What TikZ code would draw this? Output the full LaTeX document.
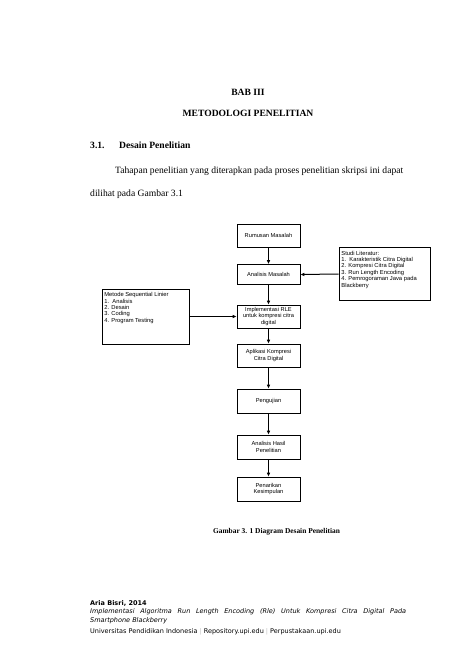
\documentclass[tikz,border=0pt]{standalone}
\usepackage{fontspec}
\setmainfont{Liberation Serif}
\newfontfamily\diagfont{Liberation Sans}
\newfontfamily\footfont{DejaVu Sans}
\usetikzlibrary{arrows.meta, positioning, calc}

\begin{document}
\begin{tikzpicture}[x=1pt, y=-1pt, every node/.style={inner sep=0pt},
    stepbox/.style={draw, line width=0.6pt, minimum width=63pt, minimum height=23pt,
      align=center, font=\diagfont\fontsize{5.7}{6.5}\selectfont},
    sidebox/.style={draw, line width=0.6pt},
    sidetext/.style={align=left, inner xsep=2.5pt, inner ysep=3.5pt, font=\diagfont\fontsize{5.8}{6.4}\selectfont},
    flow/.style={-{Latex[length=4pt, width=3.6pt]}, line width=1pt},
    bodytext/.style={anchor=base west, font=\fontsize{9.6}{11}\selectfont},
    foottext/.style={anchor=base west, font=\footfont\fontsize{6.5}{9.6}\selectfont}]
      \useasboundingbox (0,0) rectangle (474,669);
      % Chapter heading
      \node[font=\fontsize{9.6}{11}\bfseries] (bab) at (248,92) {BAB III};
      \node[font=\fontsize{9.6}{11}\bfseries] (judul) at (248,113) {METODOLOGI PENELITIAN};
      \node[anchor=base west, font=\fontsize{9.6}{11}\bfseries] (nomor) at (90,148) {3.1.};
      \node[anchor=base west, font=\fontsize{9.6}{11}\bfseries] (subjudul) at (119,148) {Desain Penelitian};
      \node[bodytext] (paragraf) at (115,173) {Tahapan penelitian yang diterapkan pada proses penelitian skripsi ini dapat};
      \node[bodytext] (paragrafb) at (90,196) {dilihat pada Gambar 3.1};
      % Main flow
      \node[stepbox] (rumusan) at (268.5,235.5) {Rumusan Masalah};
      \node[stepbox, minimum height=20pt] (analisis) at (268.5,274.5) {Analisis Masalah};
      \node[stepbox] (implementasi) at (268.5,316.5) {Implementasi RLE\\untuk kompresi citra\\digital};
      \node[stepbox] (aplikasi) at (268.5,355.5) {Aplikasi Kompresi\\Citra Digital};
      \node[stepbox, minimum height=24pt] (pengujian) at (268.5,401) {Pengujian};
      \node[stepbox, minimum height=24pt] (hasil) at (268.5,447) {Analisis Hasil\\Penelitian};
      \node[stepbox, minimum height=24pt] (penarikan) at (268.5,489) {Penarikan\\Kesimpulan};
      \draw[flow] (rumusan) -- (analisis);
      \draw[flow] (analisis) -- (implementasi);
      \draw[flow] (implementasi) -- (aplikasi);
      \draw[flow] (aplikasi) -- (pengujian);
      \draw[flow] (pengujian) -- (hasil);
      \draw[flow] (hasil) -- (penarikan);
      % Side boxes
      \node[sidebox, minimum width=87pt, minimum height=55pt] (metode) at (145.5,316.5) {};
      \node[sidetext, anchor=north west] (metodeteks) at (metode.north west)
        {Metode Sequential Linier\\1.\ \ Analisis\\2. Desain\\3. Coding\\4. Program Testing};
      \node[sidebox, minimum width=91pt, minimum height=53pt] (studi) at (384.5,274) {};
      \node[sidetext, anchor=north west] (studiteks) at (studi.north west)
        {Studi Literatur:\\1.\ \ Karakteristik Citra Digital\\2. Kompresi Citra Digital\\3. Run Length Encoding\\4. Pemrogoraman Java pada\\Blackberry};
      \draw[flow] (metode.east) -- (implementasi.west);
      \draw[flow] (studi.west) -- (analisis.east);
      % Caption
      \node[font=\fontsize{7.4}{9}\bfseries] (caption) at (276.5,532) {Gambar 3. 1 Diagram Desain Penelitian};
      % Footer
      \node[foottext, font=\footfont\fontsize{6.5}{9.6}\bfseries\selectfont] (penulis) at (90,605) {Aria Bisri, 2014};
      \node[foottext, anchor=north west, align=left, font=\footfont\fontsize{6.5}{9.4}\itshape\selectfont] (judulskripsi) at (90,608)
        {\makebox[316pt][s]{Implementasi Algoritma Run Length Encoding (Rle) Untuk Kompresi Citra Digital Pada}\\Smartphone Blackberry};
      \node[foottext] (kampus) at (90,633)
        {Universitas Pendidikan Indonesia {\color{gray!50}|} Repository.upi.edu {\color{gray!50}|} Perpustakaan.upi.edu};
    \end{tikzpicture}
\end{document}
